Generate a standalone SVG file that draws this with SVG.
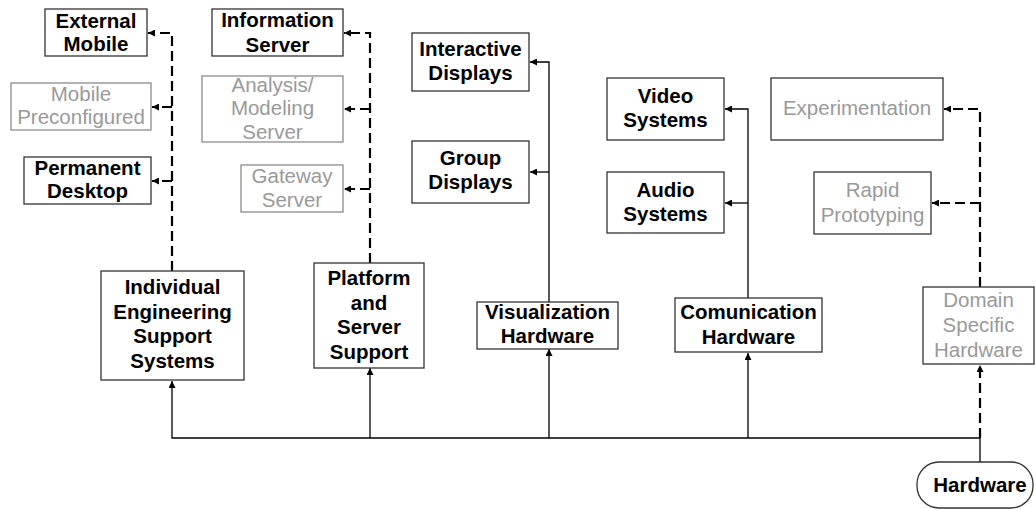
<svg xmlns="http://www.w3.org/2000/svg" width="1035" height="509" viewBox="0 0 1035 509">
<defs>
<marker id="ah" viewBox="0 0 10 10" refX="10" refY="5" markerWidth="7" markerHeight="7" markerUnits="userSpaceOnUse" orient="auto">
<path d="M0,0 L10,5 L0,10 Z" fill="#000"/>
</marker>
</defs>
<style>
.box{fill:#fff;stroke:#333;stroke-width:1.3}
.gbox{fill:#fff;stroke:#8c8c8c;stroke-width:1.3}
.t{font-family:"Liberation Sans",Arial,sans-serif;font-size:20.5px;font-weight:bold;fill:#000;text-anchor:middle}
.g{font-family:"Liberation Sans",Arial,sans-serif;font-size:20.5px;fill:#999;text-anchor:middle}
.s{fill:none;stroke:#000;stroke-width:1.3}
.d{fill:none;stroke:#000;stroke-width:2.2;stroke-dasharray:10 5}
</style>
<rect width="1035" height="509" fill="#fff"/>
<g id="connectors">
<path class="d" d="M172,271 V33 H148" marker-end="url(#ah)"/>
<path class="d" d="M172,107 H152" marker-end="url(#ah)"/>
<path class="d" d="M172,181 H152" marker-end="url(#ah)"/>
<path class="d" d="M370,263 V33 H344" marker-end="url(#ah)"/>
<path class="d" d="M370,109 H344" marker-end="url(#ah)"/>
<path class="d" d="M370,189 H344" marker-end="url(#ah)"/>
<path class="s" d="M549,302 V62 H530" marker-end="url(#ah)"/>
<path class="s" d="M549,172 H530" marker-end="url(#ah)"/>
<path class="s" d="M748,298 V109 H725" marker-end="url(#ah)"/>
<path class="s" d="M748,203 H725" marker-end="url(#ah)"/>
<path class="d" d="M980,287 V109 H944" marker-end="url(#ah)"/>
<path class="d" d="M980,203 H932" marker-end="url(#ah)"/>
<path class="s" d="M980,462 V438 H172 V381" marker-end="url(#ah)"/>
<path class="s" d="M370,438 V368" marker-end="url(#ah)"/>
<path class="s" d="M549,438 V349" marker-end="url(#ah)"/>
<path class="s" d="M748,438 V353" marker-end="url(#ah)"/>
<path class="d" d="M980,438 V365" marker-end="url(#ah)"/>
</g>
<g id="external-mobile">
<rect class="box" x="45" y="9" width="102" height="47"/>
<text class="t" x="96" y="27.5">External</text>
<text class="t" x="96" y="50.5">Mobile</text>
</g>
<g id="mobile-preconfigured">
<rect class="gbox" x="11" y="83" width="140" height="47"/>
<text class="g" x="81" y="101">Mobile</text>
<text class="g" x="81" y="124">Preconfigured</text>
</g>
<g id="permanent-desktop">
<rect class="box" x="24" y="157" width="127" height="47"/>
<text class="t" x="87.5" y="175">Permanent</text>
<text class="t" x="87.5" y="198">Desktop</text>
</g>
<g id="individual-engineering">
<rect class="box" x="101" y="271" width="143" height="109"/>
<text class="t" x="172.5" y="294">Individual</text>
<text class="t" x="172.5" y="318.5">Engineering</text>
<text class="t" x="172.5" y="343">Support</text>
<text class="t" x="172.5" y="367.5">Systems</text>
</g>
<g id="information-server">
<rect class="box" x="212" y="9" width="131" height="47"/>
<text class="t" x="277.5" y="27">Information</text>
<text class="t" x="277.5" y="51.5">Server</text>
</g>
<g id="analysis-modeling-server">
<rect class="gbox" x="202" y="76" width="141" height="66"/>
<text class="g" x="272.5" y="91.5">Analysis/</text>
<text class="g" x="272.5" y="115">Modeling</text>
<text class="g" x="272.5" y="139">Server</text>
</g>
<g id="gateway-server">
<rect class="gbox" x="241" y="165" width="102" height="47"/>
<text class="g" x="292" y="183">Gateway</text>
<text class="g" x="292" y="206.5">Server</text>
</g>
<g id="platform-server-support">
<rect class="box" x="314" y="263" width="110" height="105"/>
<text class="t" x="369" y="285">Platform</text>
<text class="t" x="369" y="309.5">and</text>
<text class="t" x="369" y="334">Server</text>
<text class="t" x="369" y="358.5">Support</text>
</g>
<g id="interactive-displays">
<rect class="box" x="412" y="33" width="117" height="58"/>
<text class="t" x="470.5" y="56">Interactive</text>
<text class="t" x="470.5" y="80">Displays</text>
</g>
<g id="group-displays">
<rect class="box" x="412" y="141" width="117" height="62"/>
<text class="t" x="470.5" y="165">Group</text>
<text class="t" x="470.5" y="188.5">Displays</text>
</g>
<g id="visualization-hardware">
<rect class="box" x="477" y="302" width="141" height="47"/>
<text class="t" x="547.5" y="318.5">Visualization</text>
<text class="t" x="547.5" y="343">Hardware</text>
</g>
<g id="video-systems">
<rect class="box" x="607" y="78" width="117" height="62"/>
<text class="t" x="665.5" y="102.5">Video</text>
<text class="t" x="665.5" y="127">Systems</text>
</g>
<g id="audio-systems">
<rect class="box" x="607" y="172" width="117" height="61"/>
<text class="t" x="665.5" y="196.5">Audio</text>
<text class="t" x="665.5" y="221">Systems</text>
</g>
<g id="comunication-hardware">
<rect class="box" x="675" y="298" width="147" height="54"/>
<text class="t" x="748.5" y="319">Comunication</text>
<text class="t" x="748.5" y="343.5">Hardware</text>
</g>
<g id="experimentation">
<rect class="box" x="771" y="78" width="172" height="62"/>
<text class="g" x="857" y="114.5">Experimentation</text>
</g>
<g id="rapid-prototyping">
<rect class="box" x="814" y="172" width="117" height="62"/>
<text class="g" x="872.5" y="197">Rapid</text>
<text class="g" x="872.5" y="221.5">Prototyping</text>
</g>
<g id="domain-specific-hardware">
<rect class="box" x="923" y="287" width="111" height="77"/>
<text class="g" x="978.5" y="306.5">Domain</text>
<text class="g" x="978.5" y="331.5">Specific</text>
<text class="g" x="978.5" y="356.5">Hardware</text>
</g>
<g id="hardware">
<rect class="box" x="917" y="462" width="116" height="46" rx="22" ry="22"/>
<text class="t" x="980" y="491.5">Hardware</text>
</g>
</svg>
